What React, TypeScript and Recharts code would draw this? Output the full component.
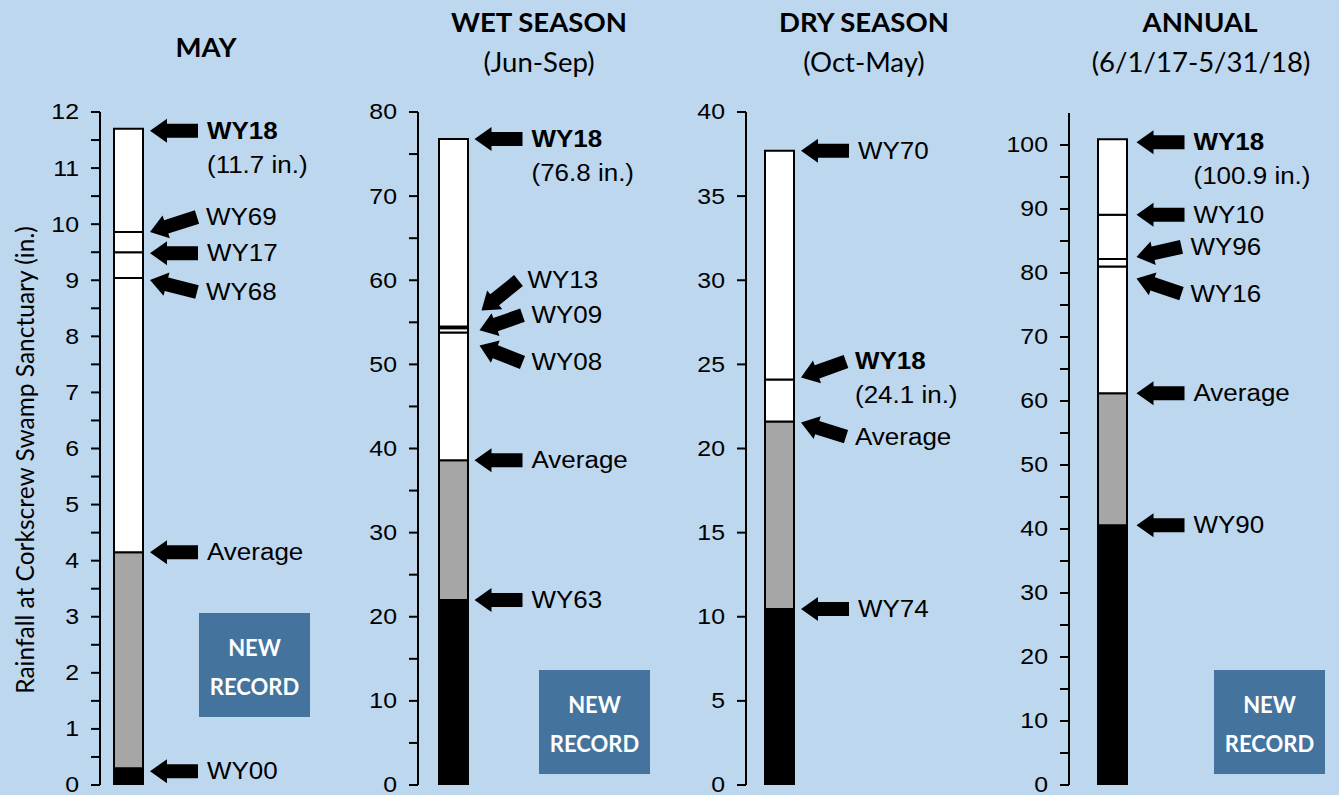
import React from 'react';
import { BarChart, Bar, XAxis, YAxis, ReferenceDot } from 'recharts';

// record levels, listed bottom to top (inches)
const mayNames = ['WY00', 'Average', 'WY68', 'WY17', 'WY69', 'WY18'];
const mayLevels = [0.3, 4.15, 9.04, 9.5, 9.86, 11.7];
const mayTicks = [0, 0.5, 1, 1.5, 2, 2.5, 3, 3.5, 4, 4.5, 5, 5.5, 6, 6.5, 7, 7.5, 8, 8.5, 9, 9.5, 10, 10.5, 11, 11.5, 12];

const wetNames = ['WY63', 'Average', 'WY08', 'WY09', 'WY13', 'WY18'];
const wetLevels = [22.0, 38.6, 53.8, 54.3, 54.5, 76.8];
const wetTicks = [0, 5, 10, 15, 20, 25, 30, 35, 40, 45, 50, 55, 60, 65, 70, 75, 80];

const dryNames = ['WY74', 'Average', 'WY18', 'WY70'];
const dryLevels = [10.46, 21.6, 24.1, 37.7];
const dryTicks = [0, 5, 10, 15, 20, 25, 30, 35, 40];

const annualNames = ['WY90', 'Average', 'WY16', 'WY96', 'WY10', 'WY18'];
const annualLevels = [40.6, 61.2, 81.0, 82.2, 89.1, 100.9];
const annualTicks = [0, 5, 10, 15, 20, 25, 30, 35, 40, 45, 50, 55, 60, 65, 70, 75, 80, 85, 90, 95, 100];

const BG = '#BDD7EE';
const BOX = '#44749E';
const AXIS_FONT = '"Liberation Sans", Arial, sans-serif';
const TITLE_FONT = 'Lato, "Open Sans", sans-serif';
const STRETCH = 1.13;

type Pt = { tipDy?: number; gap?: number; dx?: number; dy?: number };

// arrow geometry, px offsets from the marked level
const mayArrows: Record<string, Pt> = {
  WY18: { tipDy: 2 },
  WY69: { dx: 47, dy: -15 },
  WY17: { tipDy: 1 },
  WY68: { tipDy: 2, dx: 47, dy: 12 },
  WY00: { tipDy: 3 },
};
const wetArrows: Record<string, Pt> = {
  WY13: { tipDy: -16, gap: 14, dx: 37, dy: -30 },
  WY09: { tipDy: 2, gap: 12, dx: 43, dy: -15 },
  WY08: { tipDy: 13, gap: 12, dx: 43, dy: 17 },
};
const dryArrows: Record<string, Pt> = {
  WY18: { tipDy: -2, dx: 45, dy: -16 },
  Average: { tipDy: 1, dx: 45, dy: 14 },
};
const annualArrows: Record<string, Pt> = {
  WY18: { tipDy: 3, gap: 10 },
  WY10: { gap: 10 },
  WY96: { tipDy: -2, gap: 10, dx: 45, dy: -10 },
  WY16: { tipDy: 12, gap: 10, dx: 45, dy: 15 },
  Average: { gap: 10 },
  WY90: { gap: 10 },
};

function segColor(i: number) {
  if (i === 0) return '#000000';
  if (i === 1) return '#A6A6A6';
  return '#FFFFFF';
}

function Wide({ x, y, anchor = 'start', size, bold, family, sx = STRETCH, children }: any) {
  return (
    <text transform={`translate(${x},${y}) scale(${sx},1)`} textAnchor={anchor} dominantBaseline="central"
      fontFamily={family || AXIS_FONT} fontSize={size} fontWeight={bold ? 'bold' : 'normal'} fill="#000">
      {children}
    </text>
  );
}

function Pointer(props: any) {
  const { cx, cy, half, pt, name, value } = props;
  const p: Pt = pt || {};
  const tipX = cx + half + (p.gap ?? 7);
  const tipY = cy + (p.tipDy ?? 0);
  const dx = p.dx ?? 48;
  const dy = p.dy ?? 0;
  const len = Math.hypot(dx, dy);
  const ang = (Math.atan2(dy, dx) * 180) / Math.PI;
  const pts = `0,0 17,-12 17,-7 ${len},-7 ${len},7 17,7 17,12`;
  const tx = tipX + dx + 9;
  const ty = tipY + dy;
  const isNew = name === 'WY18';
  return (
    <g>
      <polygon points={pts} fill="#000" transform={`translate(${tipX},${tipY}) rotate(${ang})`} />
      <Wide x={tx} y={ty} size={23} bold={isNew}>{name}</Wide>
      {isNew && <Wide x={tx} y={ty + 34} size={23}>{`(${value.toFixed(1)} in.)`}</Wide>}
    </g>
  );
}

interface PanelProps {
  id: string;
  names: string[];
  levels: number[];
  ticks: number[];
  labelStep: number;
  domain: [number, number];
  arrows: Record<string, Pt>;
  left: number;
  width: number;
  axisW: number;
  rightM: number;
  padRight: number;
}

function Panel({ id, names, levels, ticks, labelStep, domain, arrows, left, width, axisW, rightM, padRight }: PanelProps) {
  const row: Record<string, any> = { name: id };
  levels.forEach((v, i) => {
    row['s' + i] = i === 0 ? v : v - levels[i - 1];
  });
  const barSize = 29;
  const axisLine = { stroke: '#000', strokeWidth: 2 };
  const isMajor = (v: number) => Math.abs(v / labelStep - Math.round(v / labelStep)) < 1e-6;
  return (
    <div style={{ position: 'absolute', left, top: 0 }}>
      <BarChart width={width} height={795} data={[row]} margin={{ top: domain[1] === 105 ? 113 : 112, right: rightM, left: 0, bottom: 10 }}>
        <XAxis dataKey="name" height={0} tick={false} tickLine={false} axisLine={axisLine} padding={{ left: 0, right: padRight }} />
        <XAxis xAxisId="top" orientation="top" dataKey="name" height={0} tick={false} tickLine={false} axisLine={axisLine} />
        <YAxis
          domain={domain}
          ticks={ticks}
          interval={0}
          allowDataOverflow
          width={axisW}
          tickSize={9}
          tickMargin={12}
          tick={(t: any) =>
            isMajor(t.payload.value) ? (
              <Wide x={t.x} y={t.y} anchor="end" size={22}>{String(t.payload.value)}</Wide>
            ) : (
              <g />
            )
          }
          axisLine={axisLine}
          tickLine={axisLine}
        />
        <YAxis yAxisId="right" orientation="right" width={0} tick={false} tickLine={false} axisLine={axisLine} />
        {levels.map((_, i) => (
          <Bar key={i} dataKey={'s' + i} stackId="a" barSize={barSize} fill={segColor(i)}
            stroke="#000" strokeWidth={2} isAnimationActive={false} />
        ))}
        {names.map((n, i) => (
          <ReferenceDot key={n} x={id} y={levels[i]} r={0} ifOverflow="visible"
            shape={(p: any) => <Pointer {...p} half={barSize / 2} pt={arrows[n]} name={n} value={levels[i]} />} />
        ))}
      </BarChart>
    </div>
  );
}

function Record({ x, y }: { x: number; y: number }) {
  return (
    <g>
      <rect x={x} y={y} width={111} height={104} fill={BOX} />
      <text x={x + 55.5} y={y + 34} textAnchor="middle" dominantBaseline="central" fill="#fff"
        fontFamily={TITLE_FONT} fontWeight="bold" fontSize={22}>NEW</text>
      <text x={x + 55.5} y={y + 73} textAnchor="middle" dominantBaseline="central" fill="#fff"
        fontFamily={TITLE_FONT} fontWeight="bold" fontSize={22}>RECORD</text>
    </g>
  );
}

export default function App() {
  const ts = 1.06;
  return (
    <div style={{ position: 'absolute', left: 0, top: 0, width: 1339, height: 795, background: BG, overflow: 'hidden' }}>
      <Panel id="MAY" names={mayNames} levels={mayLevels} ticks={mayTicks} labelStep={1} domain={[0, 12]}
        arrows={mayArrows} left={0} width={340} axisW={100} rightM={8} padRight={175} />
      <Panel id="WET" names={wetNames} levels={wetLevels} ticks={wetTicks} labelStep={10} domain={[0, 80]}
        arrows={wetArrows} left={340} width={330} axisW={78} rightM={7} padRight={175} />
      <Panel id="DRY" names={dryNames} levels={dryLevels} ticks={dryTicks} labelStep={5} domain={[0, 40]}
        arrows={dryArrows} left={670} width={320} axisW={76} rightM={9} padRight={168} />
      <Panel id="ANNUAL" names={annualNames} levels={annualLevels} ticks={annualTicks} labelStep={10} domain={[0, 105]}
        arrows={annualArrows} left={990} width={349} axisW={79} rightM={2} padRight={182} />
      <svg width={1339} height={795} style={{ position: 'absolute', left: 0, top: 0, pointerEvents: 'none' }}>
        <Wide x={206} y={47} anchor="middle" size={26} bold sx={ts} family={TITLE_FONT}>MAY</Wide>
        <Wide x={539} y={22} anchor="middle" size={26} bold sx={ts} family={TITLE_FONT}>WET SEASON</Wide>
        <Wide x={539} y={62} anchor="middle" size={26} sx={ts} family={TITLE_FONT}>(Jun-Sep)</Wide>
        <Wide x={864} y={22} anchor="middle" size={26} bold sx={ts} family={TITLE_FONT}>DRY SEASON</Wide>
        <Wide x={864} y={62} anchor="middle" size={26} sx={ts} family={TITLE_FONT}>(Oct-May)</Wide>
        <Wide x={1200} y={22} anchor="middle" size={26} bold sx={ts} family={TITLE_FONT}>ANNUAL</Wide>
        <Wide x={1201} y={62} anchor="middle" size={26} sx={ts} family={TITLE_FONT}>(6/1/17-5/31/18)</Wide>
        <text x={24} y={460} textAnchor="middle" dominantBaseline="central" transform="rotate(-90 24 460)"
          fontFamily={TITLE_FONT} fontSize={24.5} fill="#000">Rainfall at Corkscrew Swamp Sanctuary (in.)</text>
        <Record x={199} y={613} />
        <Record x={539} y={670} />
        <Record x={1214} y={670} />
      </svg>
    </div>
  );
}
